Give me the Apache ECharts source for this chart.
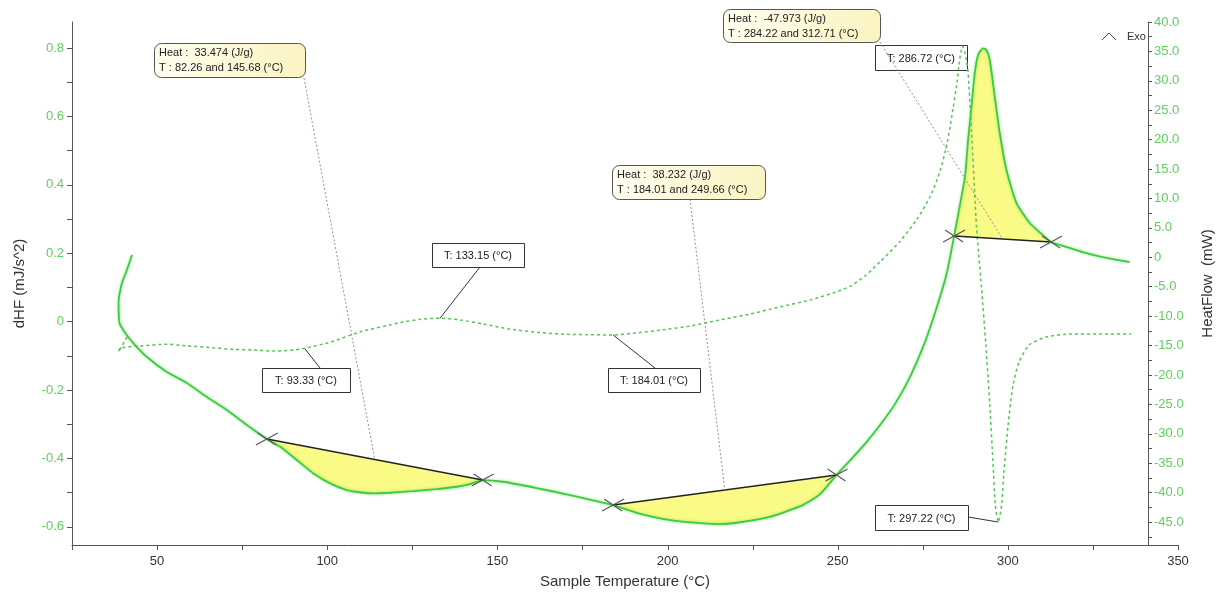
<!DOCTYPE html>
<html><head><meta charset="utf-8">
<script src="https://cdn.jsdelivr.net/npm/echarts@6/dist/echarts.min.js"></script>
<style>html,body{margin:0;padding:0;background:#fff}#c{width:1223px;height:598px}</style>
</head><body><div id="c"></div>
<script>
// ---------- data ----------
const heatFlowT = [42.61, 41.14, 39.68, 38.68, 38.97, 40.64, 42.99, 47.02, 52.89, 58.77, 64.64, 70.51, 76.39, 82.26,
  86.17, 91.07, 95.95, 100.85, 105.75, 110.63, 113.57, 118.47, 125.31, 132.19, 138.06, 141.97, 145.68,
  151.66, 161.56, 171.33, 184.01, 190.92, 200.70, 210.39, 215.39, 220.29, 230.07, 239.76, 244.76, 249.66,
  254.45, 258.47, 262.46, 266.78, 271.19, 275.59, 279.12, 282.05, 284.22, 287.39, 288.31, 289.31, 290.28,
  291.25, 292.72, 293.72, 294.69, 296.16, 297.63, 299.60, 302.54, 306.45, 309.62, 312.71, 317.29, 321.99,
  327.87, 335.80];
const heatFlowMW = [0.39, -2.16, -4.37, -7.77, -11.17, -12.87, -14.57, -16.95, -19.50, -21.37, -23.75, -25.96, -28.51, -30.89,
  -32.20, -34.46, -36.73, -38.43, -39.57, -40.02, -40.13, -40.02, -39.73, -39.39, -39.00, -38.54, -37.86,
  -38.15, -39.22, -40.41, -42.11, -43.42, -44.67, -45.23, -45.35, -45.12, -44.10, -42.11, -40.30, -37.00,
  -34.00, -31.40, -28.50, -25.00, -20.40, -14.50, -8.50, -2.70, 3.62, 13.70, 19.94, 25.60, 31.33,
  34.39, 35.53, 35.24, 33.54, 27.30, 21.13, 14.84, 9.23, 5.83, 4.13, 2.60, 1.75, 0.90,
  0.05, -0.80];

const dhfT = [41.14, 38.68, 39.18, 45.05, 52.89, 58.77, 64.64, 72.36, 78.24, 84.11, 89.10, 93.33,
  100.85, 109.66, 121.41, 127.28, 133.15, 139.03, 145.87, 153.71, 162.52, 170.37, 176.24, 184.01,
  189.93, 197.77, 206.57, 215.39, 224.20, 233.01, 241.82, 249.66, 253.57, 257.97, 262.46, 268.33,
  273.32, 277.14, 280.08, 282.13, 283.60, 285.07, 285.66, 286.20, 286.72, 287.30, 287.90, 288.31,
  289.31, 290.78, 292.25, 293.53, 294.71, 295.59, 296.32, 297.22, 298.16, 298.89, 300.07, 301.53,
  303.29, 306.23, 311.22, 318.56, 327.37, 336.18];
const dhfVal = [-0.045, -0.089, -0.077, -0.071, -0.066, -0.071, -0.075, -0.081, -0.083, -0.086, -0.084, -0.078,
  -0.060, -0.030, -0.003, 0.007, 0.010, 0.005, -0.007, -0.022, -0.032, -0.037, -0.038, -0.039,
  -0.034, -0.025, -0.013, 0.005, 0.022, 0.043, 0.063, 0.087, 0.103, 0.133, 0.175, 0.235,
  0.300, 0.365, 0.440, 0.520, 0.605, 0.700, 0.752, 0.788, 0.805, 0.790, 0.760, 0.730,
  0.560, 0.277, 0.101, -0.068, -0.244, -0.405, -0.536, -0.586, -0.536, -0.434, -0.302, -0.185,
  -0.118, -0.068, -0.045, -0.036, -0.036, -0.036];

const peakRanges = [[82.26, 145.68], [184.01, 249.66], [284.22, 312.71]];
const peakHeats = ['33.474', '38.232', '-47.973'];
const markerTemps = [93.33, 133.15, 184.01, 286.72, 297.22];

const xLabelValues = [50, 100, 150, 200, 250, 300, 350];
const xTickValues = [25, 50, 75, 100, 125, 150, 175, 200, 225, 250, 275, 300, 325, 350];
const leftLabelValues = [-0.6, -0.4, -0.2, 0, 0.2, 0.4, 0.6, 0.8];
const leftTickValues = [-0.6, -0.5, -0.4, -0.3, -0.2, -0.1, 0, 0.1, 0.2, 0.3, 0.4, 0.5, 0.6, 0.7, 0.8];
const rightLabelValues = [-45, -40, -35, -30, -25, -20, -15, -10, -5, 0, 5, 10, 15, 20, 25, 30, 35, 40];
const rightTickValues = [-47.5, -45, -42.5, -40, -37.5, -35, -32.5, -30, -27.5, -25, -22.5, -20, -17.5, -15, -12.5, -10,
  -7.5, -5, -2.5, 0, 2.5, 5, 7.5, 10, 12.5, 15, 17.5, 20, 22.5, 25, 27.5, 30, 32.5, 35, 37.5, 40];

// ---------- layout (pixels) ----------
const heatBoxLayout = [
  {x: 154, y: 43, w: 151, h: 34, lx: 304, ly: 78},
  {x: 612, y: 165, w: 153, h: 34, lx: 690, ly: 199},
  {x: 723, y: 9, w: 157, h: 33, lx: 880, ly: 42}
];
const tBoxLayout = [
  {x: 262, y: 368, w: 88, h: 24, lx: 320, ly: 368},
  {x: 432, y: 243, w: 92, h: 24, lx: 480, ly: 267},
  {x: 608, y: 368, w: 92, h: 24, lx: 655, ly: 368},
  {x: 875, y: 45, w: 92, h: 25, lx: null, ly: null},
  {x: 875, y: 505, w: 93, h: 25, lx: 968, ly: 517}
];

const FONT = '"Liberation Sans", Arial, sans-serif';
const GREEN_LABEL = '#5fcf5f';
const AXIS_COLOR = '#555';
const RIGHT_MIN = -48.9, RIGHT_MAX = 40;

function valueAt(ts, vs, t, start) {
  for (let i = start; i < ts.length - 1; i++) {
    if (ts[i] <= t && t <= ts[i + 1]) {
      const f = (t - ts[i]) / (ts[i + 1] - ts[i]);
      return vs[i] + f * (vs[i + 1] - vs[i]);
    }
  }
  return null;
}
function regionPoints(api, r) {
  const pts = [];
  for (let i = 4; i < heatFlowT.length; i++) {
    if (heatFlowT[i] >= r[0] - 1e-9 && heatFlowT[i] <= r[1] + 1e-9) pts.push(api.coord([heatFlowT[i], heatFlowMW[i]]));
  }
  return pts;
}
// tick-only companion axis
function tickAxis(base, ticks, len) {
  return Object.assign({}, base, {
    name: '', axisLine: {show: false, onZero: false},
    axisTick: {show: true, length: len, lineStyle: {color: AXIS_COLOR}, customValues: ticks},
    axisLabel: {show: false}, splitLine: {show: false}
  });
}

const xMain = {
  type: 'value', min: 25, max: 350, position: 'bottom',
  name: 'Sample Temperature (°C)', nameLocation: 'middle', nameGap: 29,
  nameTextStyle: {fontSize: 15, color: '#333', fontFamily: FONT},
  axisLine: {show: true, onZero: false, lineStyle: {color: AXIS_COLOR, width: 1}},
  axisTick: {show: false},
  axisLabel: {color: '#333', fontSize: 13, margin: 10, fontFamily: FONT, customValues: xLabelValues, backgroundColor: 'transparent'},
  splitLine: {show: false}
};
const yLeft = {
  type: 'value', min: -0.653, max: 0.876, position: 'left',
  name: 'dHF (mJ/s^2)', nameLocation: 'middle', nameGap: 45, nameRotate: 90,
  nameTextStyle: {fontSize: 15, color: '#333', fontFamily: FONT},
  axisLine: {show: true, onZero: false, lineStyle: {color: AXIS_COLOR, width: 1}},
  axisTick: {show: false},
  axisLabel: {color: GREEN_LABEL, fontSize: 13, margin: 8, fontFamily: FONT, customValues: leftLabelValues,
    formatter: v => (Math.abs(v) < 1e-9 ? '0' : String(+v.toFixed(1)))},
  splitLine: {show: false}
};
const yRight = {
  type: 'value', min: RIGHT_MIN, max: RIGHT_MAX, position: 'right', offset: -30,
  name: 'HeatFlow  (mW)', nameLocation: 'middle', nameGap: 52, nameRotate: 90,
  nameTextStyle: {fontSize: 15, color: '#333', fontFamily: FONT},
  axisLine: {show: true, onZero: false, lineStyle: {color: AXIS_COLOR, width: 1}},
  axisTick: {show: false},
  axisLabel: {color: GREEN_LABEL, fontSize: 13, margin: 6, fontFamily: FONT, customValues: rightLabelValues,
    formatter: v => (Math.abs(v) < 1e-9 ? '0' : v.toFixed(1))},
  splitLine: {show: false}
};

const chart = echarts.init(document.getElementById('c'), null, {renderer: 'canvas'});
const option = {
  animation: false,
  backgroundColor: '#fff',
  textStyle: {fontFamily: FONT},
  grid: {left: 72, right: 45, top: 22, bottom: 53},
  xAxis: [xMain],
  yAxis: [yLeft, yRight, tickAxis(yLeft, leftTickValues, 5), tickAxis(yRight, rightTickValues, 4)],
  graphic: [
    {type: 'polyline', shape: {points: [[1102, 40], [1109, 33], [1116, 40]]}, style: {stroke: '#444', lineWidth: 1, fill: null}},
    {type: 'text', left: 1127, top: 31, style: {text: 'Exo', fontSize: 11, fill: '#333', fontFamily: FONT}}
  ],
  series: [
    { // x-axis tick marks, placed through the x scale
      type: 'custom', coordinateSystem: 'cartesian2d', xAxisIndex: 0, yAxisIndex: 1, z: 50, zlevel: 1, clip: false, silent: true,
      data: xTickValues.map(v => [v, RIGHT_MIN]),
      renderItem: function (params, api) {
        const p = api.coord([api.value(0), RIGHT_MIN]);
        const x = Math.round(p[0]) + 0.5;
        return {type: 'line', shape: {x1: x, y1: p[1], x2: x, y2: p[1] + 5},
          style: {stroke: AXIS_COLOR, lineWidth: 1}};
      }
    },
    { // yellow fill between curve and baseline
      type: 'custom', coordinateSystem: 'cartesian2d', xAxisIndex: 0, yAxisIndex: 1, z: 1, clip: false, silent: true,
      data: peakRanges.map(r => [(r[0] + r[1]) / 2, 0]),
      renderItem: function (params, api) {
        const pts = regionPoints(api, peakRanges[params.dataIndex]);
        return {type: 'polygon', shape: {points: pts}, style: {fill: '#fafa86', stroke: null}};
      }
    },
    {
      type: 'line', name: 'dHF', xAxisIndex: 0, yAxisIndex: 0, z: 2, silent: true,
      data: dhfT.map((t, i) => [t, dhfVal[i]]),
      showSymbol: false, smooth: 0.2,
      lineStyle: {color: '#55c455', width: 1.5, type: [3, 3]}
    },
    {
      type: 'line', name: 'HeatFlow', xAxisIndex: 0, yAxisIndex: 1, z: 3, silent: true,
      data: heatFlowT.map((t, i) => [t, heatFlowMW[i]]),
      showSymbol: false, smooth: 0.2,
      lineStyle: {color: '#3ccc3c', width: 1.8, shadowColor: 'rgba(80,210,80,0.6)', shadowBlur: 3}
    },
    { // baselines and crosses
      type: 'custom', coordinateSystem: 'cartesian2d', xAxisIndex: 0, yAxisIndex: 1, z: 4, clip: false, silent: true,
      data: peakRanges.map(r => [(r[0] + r[1]) / 2, 0]),
      renderItem: function (params, api) {
        const pts = regionPoints(api, peakRanges[params.dataIndex]);
        const a = pts[0], b = pts[pts.length - 1];
        const cs = {stroke: '#555', lineWidth: 1.1};
        const cross = p => [
          {type: 'line', shape: {x1: p[0] - 11, y1: p[1] + 6, x2: p[0] + 11, y2: p[1] - 6}, style: cs},
          {type: 'line', shape: {x1: p[0] - 9, y1: p[1] - 6, x2: p[0] + 9, y2: p[1] + 6}, style: cs}
        ];
        return {type: 'group', children: [
          {type: 'line', shape: {x1: a[0], y1: a[1], x2: b[0], y2: b[1]}, style: {stroke: '#222', lineWidth: 1.5}}
        ].concat(cross(a), cross(b))};
      }
    },
    { // T labels on the dHF curve
      type: 'custom', coordinateSystem: 'cartesian2d', xAxisIndex: 0, yAxisIndex: 0, z: 1, clip: false, silent: true,
      data: markerTemps.map(t => [t, 0]),
      renderItem: function (params, api) {
        const i = params.dataIndex, t = markerTemps[i], L = tBoxLayout[i];
        const p = api.coord([t, valueAt(dhfT, dhfVal, t, 3)]);
        const ch = [];
        if (L.lx !== null) ch.push({type: 'line', shape: {x1: L.lx, y1: L.ly, x2: p[0], y2: p[1]}, style: {stroke: '#333', lineWidth: 1}});
        ch.push({type: 'rect', shape: {x: L.x + 0.5, y: L.y + 0.5, width: L.w, height: L.h}, style: {fill: '#fff', stroke: '#333', lineWidth: 1}});
        ch.push({type: 'text', x: L.x + L.w / 2, y: L.y + L.h / 2 + 1, style: {text: 'T: ' + t.toFixed(2) + ' (°C)', fill: '#222',
          font: '11px ' + FONT, align: 'center', verticalAlign: 'middle'}});
        return {type: 'group', children: ch};
      }
    },
    { // Heat integration annotations
      type: 'custom', coordinateSystem: 'cartesian2d', xAxisIndex: 0, yAxisIndex: 1, z: 5, clip: false, silent: true,
      data: peakRanges.map(r => [(r[0] + r[1]) / 2, 0]),
      renderItem: function (params, api) {
        const i = params.dataIndex, r = peakRanges[i], L = heatBoxLayout[i];
        const h1 = valueAt(heatFlowT, heatFlowMW, r[0], 4), h2 = valueAt(heatFlowT, heatFlowMW, r[1], 4);
        const p = api.coord([(r[0] + r[1]) / 2, (h1 + h2) / 2]);
        const fill = new echarts.graphic.LinearGradient(0, 0, 1, 1, [
          {offset: 0, color: '#fffef0'}, {offset: 1, color: '#fbf3c0'}]);
        return {type: 'group', children: [
          {type: 'line', shape: {x1: L.lx, y1: L.ly, x2: p[0], y2: p[1]}, style: {stroke: '#a88a8a', lineWidth: 1, lineDash: [2, 2]}},
          {type: 'rect', shape: {x: L.x + 0.5, y: L.y + 0.5, width: L.w, height: L.h, r: 7}, style: {fill: fill, stroke: '#555', lineWidth: 1}},
          {type: 'text', x: L.x + 5, y: L.y + 10, style: {text: 'Heat :  ' + peakHeats[i] + ' (J/g)', fill: '#222', font: '11px ' + FONT, verticalAlign: 'middle'}},
          {type: 'text', x: L.x + 5, y: L.y + 25, style: {text: 'T : ' + r[0].toFixed(2) + ' and ' + r[1].toFixed(2) + ' (°C)', fill: '#222', font: '11px ' + FONT, verticalAlign: 'middle'}}
        ]};
      }
    }
  ]
};
chart.setOption(option);
</script>
</body></html>
